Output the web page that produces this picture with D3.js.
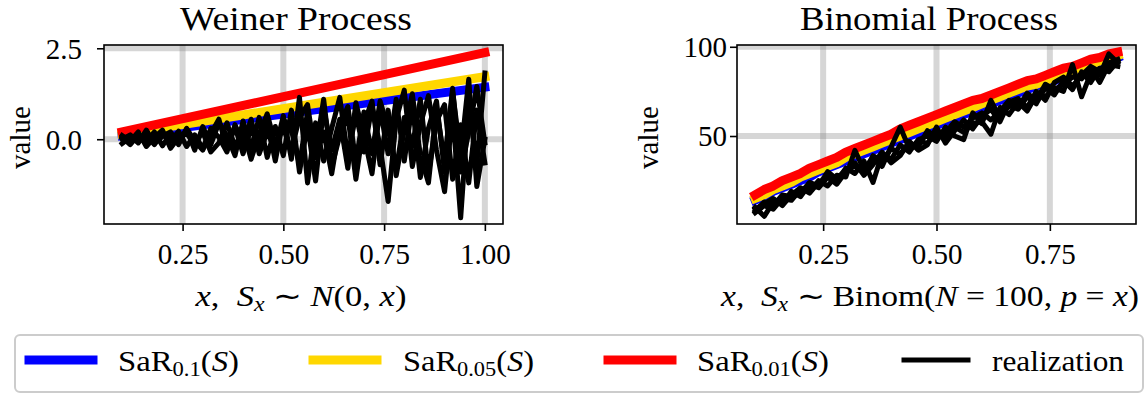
<!DOCTYPE html>
<html><head><meta charset="utf-8">
<script src="https://cdn.jsdelivr.net/npm/d3@7"></script>
<style>
body{margin:0;background:#fff}
svg{display:block}
text{font-family:"Liberation Serif","Times New Roman",serif;fill:#000}
</style>
</head><body><div id="chart"></div>
<script>
// ---------- data: Weiner process ----------
const xW = [0.10,0.12,0.14,0.16,0.18,0.20,0.22,0.24,0.26,0.28,0.30,0.32,0.34,0.36,0.38,0.40,0.42,0.44,0.46,0.48,0.50,0.52,0.54,0.56,0.58,0.60,0.62,0.64,0.66,0.68,0.70,0.72,0.74,0.76,0.78,0.80,0.82,0.84,0.86,0.88,0.90,0.92,0.94,0.96,0.98,1.00];
const sarXW = [0.10, 1.00];
const sar10W = [0.10, 1.43];
const sar05W = [0.14, 1.72];
const sar01W = [0.20, 2.38];
const realW1 = [-0.12,0.05,-0.08,0.10,-0.15,0.18,-0.05,0.22,-0.20,0.12,-0.25,0.30,0.05,-0.35,0.40,-0.10,0.55,-0.40,0.20,-0.30,0.65,-0.55,1.15,-1.20,0.45,-0.60,0.30,1.15,-0.50,0.70,-0.35,0.90,-0.20,-1.71,0.55,1.35,-0.75,0.40,1.20,-0.30,-1.44,0.70,-2.16,1.00,-0.70,1.82];
const realW2 = [0.05,-0.15,0.12,-0.05,0.20,-0.18,0.15,-0.10,0.28,-0.30,0.35,-0.15,0.45,0.10,-0.45,0.50,-0.25,0.60,-0.50,0.35,-0.45,0.80,-0.90,0.40,-1.15,0.85,-0.30,0.55,-0.80,1.00,0.10,-0.95,0.85,-0.40,1.10,-0.60,0.95,-1.05,0.30,1.05,-0.90,1.30,-0.45,1.65,-1.30,0.00];
const realW3 = [0.10,-0.05,0.20,-0.20,0.05,0.25,-0.25,0.05,0.15,-0.10,0.20,-0.35,-0.10,0.45,-0.20,0.25,-0.55,0.15,0.70,-0.15,0.30,-0.30,0.60,0.95,-0.50,0.20,-0.95,0.40,0.90,-0.60,0.75,-0.40,1.05,0.30,-0.85,0.60,-0.20,1.10,-0.95,0.50,0.95,-1.10,0.40,-1.20,0.80,-0.65];
const realW4 = [0.00,0.12,-0.10,0.25,-0.12,0.08,0.20,-0.15,0.30,-0.05,-0.30,0.15,0.55,-0.25,0.35,-0.40,0.30,-0.15,0.50,-0.60,0.55,0.25,-0.70,0.75,-0.35,1.10,-0.75,0.10,0.65,-1.10,0.45,1.05,-0.70,0.80,-1.00,0.25,1.25,-0.45,-1.20,0.85,-0.60,1.40,-0.90,0.20,1.45,-0.10];
const xTicksW = [0.25, 0.50, 0.75, 1.00];
const yTicksW = [0.0, 2.5];

// ---------- data: Binomial process ----------
const xB = [0.10,0.12,0.14,0.16,0.18,0.20,0.22,0.24,0.26,0.28,0.30,0.32,0.34,0.36,0.38,0.40,0.42,0.44,0.46,0.48,0.50,0.52,0.54,0.56,0.58,0.60,0.62,0.64,0.66,0.68,0.70,0.72,0.74,0.76,0.78,0.80,0.82,0.84,0.86,0.88,0.90];
const sar10B = [14,16,19,21,23,25,27,30,32,34,36,38,40,42,44,46,48,50,52,54,56,58,60,62,64,66,68,70,72,74,76,78,80,81,83,85,87,89,90,92,94];
const sar05B = [15,17,20,22,24,27,29,31,33,35,38,40,42,44,46,48,50,52,54,56,58,60,62,64,66,68,70,72,74,76,78,79,81,83,85,87,88,90,92,93,95];
const sar01B = [17,20,22,25,27,29,32,34,36,38,41,43,45,47,49,51,54,56,58,60,62,64,66,68,70,71,73,75,77,79,81,82,84,86,88,89,91,93,94,96,97];
const realB1 = [7,11,9,15,14,20,19,25,22,28,27,42,31,38,33,44,55,43,47,46,52,49,55,52,57,58,51,66,62,69,64,73,72,77,75,90,72,85,84,96,91];
const realB2 = [10,5,13,12,19,16,23,21,27,25,32,29,36,24,40,37,45,41,48,50,47,55,50,48,63,57,70,60,67,65,72,68,77,73,81,76,86,80,88,86,92];
const realB3 = [8,13,11,17,16,18,24,22,30,26,31,33,30,39,36,43,40,46,44,53,49,52,58,55,60,63,59,64,70,66,74,70,79,76,79,83,82,88,80,90,89];
const realB4 = [9,12,15,11,17,21,18,24,27,23,30,35,28,34,41,35,39,47,42,45,55,46,53,59,54,61,65,58,69,71,66,75,70,80,83,78,84,89,86,91,93];
const xTicksB = [0.25, 0.50, 0.75];
const yTicksB = [50, 100];

// ---------- legend ----------
const legendColors = ["#0000ff", "#ffd700", "#ff0000", "#000000"];
const legendSubs = ["0.1", "0.05", "0.01", null];

// ---------- layout ----------
const W = 1148, H = 394;
const TOP = 45, BOTTOM = 224;
const COLOR_W = 9, BLACK_W = 5;
const SERIF = '"Liberation Serif", "Times New Roman", serif';

const svg = d3.select("#chart").append("svg").attr("width", W).attr("height", H);

const panels = [
  {
    key: "W", title: "Weiner Process", left: 104, right: 503,
    xDomain: [0.055, 1.045], yDomain: [-2.33, 2.59],
    xTicks: xTicksW, yTicks: yTicksW, xFmt: d3.format(".2f"), yFmt: d3.format(".1f"),
    sar: [ {x: sarXW, y: sar10W}, {x: sarXW, y: sar05W}, {x: sarXW, y: sar01W} ],
    real: [ {x: xW, y: realW1}, {x: xW, y: realW2}, {x: xW, y: realW3}, {x: xW, y: realW4} ],
    yTickEnd: 82, ylabelX: 30,
    titleX: 296, titleLen: 232, xlabelX: 301, xlabelLen: 211
  },
  {
    key: "B", title: "Binomial Process", left: 737, right: 1136,
    xDomain: [0.06, 0.94], yDomain: [0.7, 101],
    xTicks: xTicksB, yTicks: yTicksB, xFmt: d3.format(".2f"), yFmt: d3.format("d"),
    sar: [ {x: xB, y: sar10B}, {x: xB, y: sar05B}, {x: xB, y: sar01B} ],
    real: [ {x: xB, y: realB1}, {x: xB, y: realB2}, {x: xB, y: realB3}, {x: xB, y: realB4} ],
    yTickEnd: 727, ylabelX: 658,
    titleX: 929, titleLen: 258, xlabelX: 930, xlabelLen: 418
  }
];

panels.forEach(p => {
  const x = d3.scaleLinear().domain(p.xDomain).range([p.left, p.right]);
  const y = d3.scaleLinear().domain(p.yDomain).range([BOTTOM, TOP]);
  const g = svg.append("g");
  const clipId = "clip" + p.key;
  svg.append("clipPath").attr("id", clipId).append("rect")
    .attr("x", p.left).attr("y", TOP).attr("width", p.right - p.left).attr("height", BOTTOM - TOP);

  // grid
  const grid = g.append("g").attr("clip-path", `url(#${clipId})`);
  grid.selectAll(".gx").data(p.xTicks).join("line")
    .attr("x1", d => x(d)).attr("x2", d => x(d)).attr("y1", TOP).attr("y2", BOTTOM)
    .attr("stroke", "#808080").attr("stroke-opacity", 0.32).attr("stroke-width", 6);
  grid.selectAll(".gy").data(p.yTicks).join("line")
    .attr("y1", d => y(d)).attr("y2", d => y(d)).attr("x1", p.left).attr("x2", p.right)
    .attr("stroke", "#808080").attr("stroke-opacity", 0.32).attr("stroke-width", 6);

  const line = d3.line().x(d => x(d[0])).y(d => y(d[1]));
  const plot = g.append("g").attr("clip-path", `url(#${clipId})`);
  p.sar.forEach((s, i) => {
    plot.append("path").datum(s.x.map((v, j) => [v, s.y[j]]))
      .attr("d", line).attr("fill", "none").attr("stroke", legendColors[i])
      .attr("stroke-width", COLOR_W).attr("stroke-linejoin", "round").attr("stroke-linecap", "square");
  });
  p.real.forEach(s => {
    plot.append("path").datum(s.x.map((v, j) => [v, s.y[j]]))
      .attr("d", line).attr("fill", "none").attr("stroke", "#000")
      .attr("stroke-width", BLACK_W).attr("stroke-linejoin", "round").attr("stroke-linecap", "square");
  });

  // frame
  g.append("rect").attr("x", p.left).attr("y", TOP).attr("width", p.right - p.left).attr("height", BOTTOM - TOP)
    .attr("fill", "none").attr("stroke", "#000").attr("stroke-width", 1.6);

  // axes
  const ax = g.append("g").attr("transform", `translate(0,${BOTTOM})`)
    .call(d3.axisBottom(x).tickValues(p.xTicks).tickFormat(p.xFmt).tickSize(7))
    .attr("font-family", SERIF).attr("font-size", 29);
  ax.select(".domain").remove();
  ax.selectAll(".tick line").attr("stroke", "#000").attr("stroke-width", 1.6);
  ax.selectAll(".tick text").attr("y", 40).attr("dy", 0).attr("fill", "#000");

  const ay = g.append("g").attr("transform", `translate(${p.left},0)`)
    .call(d3.axisLeft(y).tickValues(p.yTicks).tickFormat(p.yFmt).tickSize(7))
    .attr("font-family", SERIF).attr("font-size", 29);
  ay.select(".domain").remove();
  ay.selectAll(".tick line").attr("stroke", "#000").attr("stroke-width", 1.6);
  ay.selectAll(".tick text").attr("x", p.yTickEnd - p.left).attr("dy", "0.34em").attr("fill", "#000");

  // title
  g.append("text").attr("x", p.titleX).attr("y", 30).attr("text-anchor", "middle")
    .attr("textLength", p.titleLen).attr("lengthAdjust", "spacingAndGlyphs")
    .style("font-size", "34px").text(p.title);

  // y label
  g.append("text").attr("transform", `translate(${p.ylabelX},${(TOP + BOTTOM) / 2 + 3}) rotate(-90)`)
    .attr("text-anchor", "middle").style("font-size", "29px").text("value");

  // x label
  const t = g.append("text").attr("x", p.xlabelX).attr("y", 306).attr("text-anchor", "middle")
    .attr("textLength", p.xlabelLen).attr("lengthAdjust", "spacingAndGlyphs")
    .style("font-size", "29px").style("white-space", "pre");
  t.append("tspan").attr("font-style", "italic").text("x");
  t.append("tspan").text(",\u2002");
  t.append("tspan").attr("font-style", "italic").text("S");
  t.append("tspan").attr("font-style", "italic").attr("font-size", "20px").attr("dy", 5).text("x");
  t.append("tspan").attr("dy", -5).text(" \u223C ");
  if (p.key === "W") {
    t.append("tspan").attr("font-style", "italic").text("N");
    t.append("tspan").text("(0, ");
    t.append("tspan").attr("font-style", "italic").text("x");
    t.append("tspan").text(")");
  } else {
    t.append("tspan").text("Binom(");
    t.append("tspan").attr("font-style", "italic").text("N");
    t.append("tspan").text(" = 100, ");
    t.append("tspan").attr("font-style", "italic").text("p");
    t.append("tspan").text(" = ");
    t.append("tspan").attr("font-style", "italic").text("x");
    t.append("tspan").text(")");
  }
});

// legend
const lg = svg.append("g");
lg.append("rect").attr("x", 15).attr("y", 335).attr("width", 1128).attr("height", 57).attr("rx", 5)
  .attr("fill", "#fff").attr("stroke", "#cccccc").attr("stroke-width", 2);
const handleStart = [29, 313, 608, 904];
const textStart = [118, 403, 697, 992];
const textLen = [121, 131, 132, 132];
legendColors.forEach((c, i) => {
  lg.append("line").attr("x1", handleStart[i]).attr("x2", handleStart[i] + 64).attr("y1", 360).attr("y2", 360)
    .attr("stroke", c).attr("stroke-width", i === 3 ? BLACK_W : COLOR_W).attr("stroke-linecap", "square");
  const tx = lg.append("text").attr("x", textStart[i]).attr("y", 371).style("font-size", "29px")
    .attr("textLength", textLen[i]).attr("lengthAdjust", "spacingAndGlyphs");
  if (legendSubs[i]) {
    tx.append("tspan").text("SaR");
    tx.append("tspan").attr("font-size", "20px").attr("dy", 5).text(legendSubs[i]);
    tx.append("tspan").attr("dy", -5).text("(");
    tx.append("tspan").attr("font-style", "italic").text("S");
    tx.append("tspan").text(")");
  } else {
    tx.text("realization");
  }
});
</script>
</body></html>
